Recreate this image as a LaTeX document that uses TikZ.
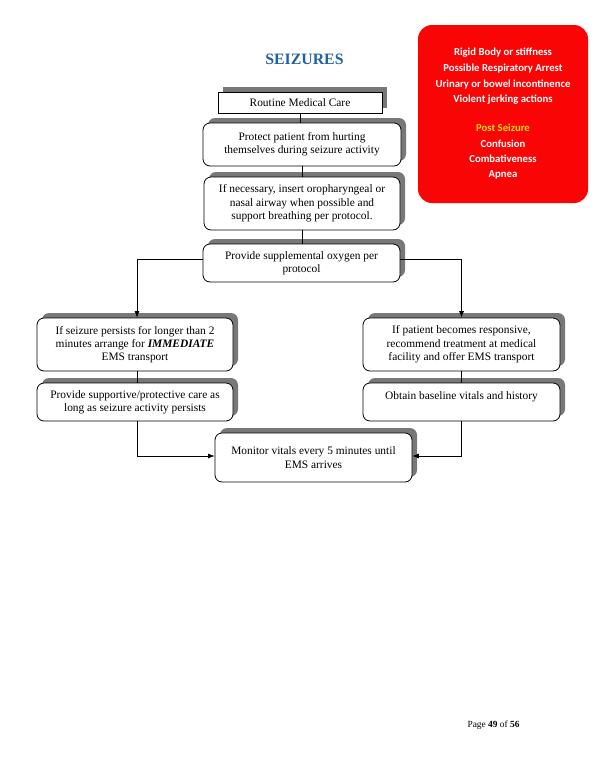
\documentclass[tikz,border=0pt]{standalone}
\usepackage{fontspec}
\setmainfont{Liberation Serif}
\newfontfamily\calib{Carlito}
\usetikzlibrary{shadows,arrows.meta}
\definecolor{titleblue}{RGB}{31,97,163}
\definecolor{shadowgray}{RGB}{120,120,120}
\definecolor{alertred}{RGB}{250,5,5}
\definecolor{postyellow}{RGB}{255,215,20}
\tikzset{
  stepbox/.style={draw=black, line width=0.8pt, fill=white, rounded corners=7pt,
    align=center, inner sep=1pt, font=\fontsize{11.4}{13.3}\selectfont,
    drop shadow={shadow xshift=5pt, shadow yshift=5pt, fill=shadowgray, opacity=1}},
  sharpbox/.style={stepbox, rounded corners=0pt},
  conn/.style={draw=black, line width=0.7pt},
  arr/.style={conn, -{Latex[length=6.5pt,width=5pt]}},
  alerttxt/.style={text=white, font=\calib\bfseries\fontsize{10.7}{12}\selectfont}
}
\begin{document}
\begin{tikzpicture}[x=1pt,y=-1pt]
\useasboundingbox (0,0) rectangle (600,777);
\fill[white] (0,0) rectangle (600,777);

\node[text=titleblue, font=\bfseries\fontsize{15.8}{18}\selectfont] (title) at (304.5,59) {SEIZURES};

\node[sharpbox, minimum width=164pt, minimum height=21pt] (routine) at (300,102.5) {Routine Medical Care};
\node[stepbox, minimum width=198pt, minimum height=43pt] (protect) at (302,144.5) {Protect patient from hurting\\themselves during seizure activity};
\node[stepbox, minimum width=196pt, minimum height=53pt] (insert) at (302,203.5) {If necessary, insert oropharyngeal or\\nasal airway when possible and\\support breathing per protocol.};
\node[stepbox, minimum width=197pt, minimum height=38pt] (oxygen) at (301.5,263) {Provide supplemental oxygen per\\protocol};
\node[stepbox, minimum width=196pt, minimum height=53pt] (persist) at (135,344.5) {If seizure persists for longer than 2\\minutes arrange for \textbf{\textit{IMMEDIATE}}\\EMS transport};
\node[stepbox, minimum width=196pt, minimum height=38pt] (support) at (135,402) {Provide supportive/protective care as\\long as seizure activity persists};
\node[stepbox, minimum width=197pt, minimum height=53pt] (respons) at (461.5,344.5) {If patient becomes responsive,\\recommend treatment at medical\\facility and offer EMS transport};
\node[stepbox, minimum width=197pt, minimum height=38pt] (baseline) at (461.5,402) {Obtain baseline vitals and history\\\mbox{}};
\node[stepbox, minimum width=197pt, minimum height=49pt] (monitor) at (313.5,457.5) {Monitor vitals every 5 minutes until\\EMS arrives};

\draw[conn] (routine.south) -- (routine.south |- protect.north);
\draw[conn] (protect.south) -- (protect.south |- insert.north);
\draw[conn] (insert.south) -- (insert.south |- oxygen.north);
\draw[arr] ([yshift=4pt]oxygen.west) -| ([xshift=2pt]persist.north);
\draw[arr] ([yshift=4pt]oxygen.east) -| (respons.north);
\draw[conn] ([xshift=2pt]persist.south) -- ([xshift=2pt]support.north);
\draw[conn] (respons.south) -- (baseline.north);
\draw[arr] ([xshift=2pt]support.south) |- ([yshift=1.5pt]monitor.west);
\draw[arr] (baseline.south) |- ([yshift=1.5pt]monitor.east);

\node[fill=alertred, rounded corners=14pt, minimum width=170pt, minimum height=178pt, inner sep=0pt] (redbox) at (503,114) {};
\node[alerttxt] (r1) at (503,53) {Rigid Body or stiffness};
\node[alerttxt] (r2) at (503,69) {Possible Respiratory Arrest};
\node[alerttxt] (r3) at (503,84.5) {Urinary or bowel incontinence};
\node[alerttxt] (r4) at (503,100) {Violent jerking actions};
\node[alerttxt, text=postyellow] (r5) at (503,128) {Post Seizure};
\node[alerttxt] (r6) at (503,143.5) {Confusion};
\node[alerttxt] (r7) at (503,159) {Combativeness};
\node[alerttxt] (r8) at (503,174.5) {Apnea};

\node[font=\fontsize{9.4}{11}\selectfont] (footer) at (493.5,725) {Page \textbf{49} of \textbf{56}};
\end{tikzpicture}
\end{document}
